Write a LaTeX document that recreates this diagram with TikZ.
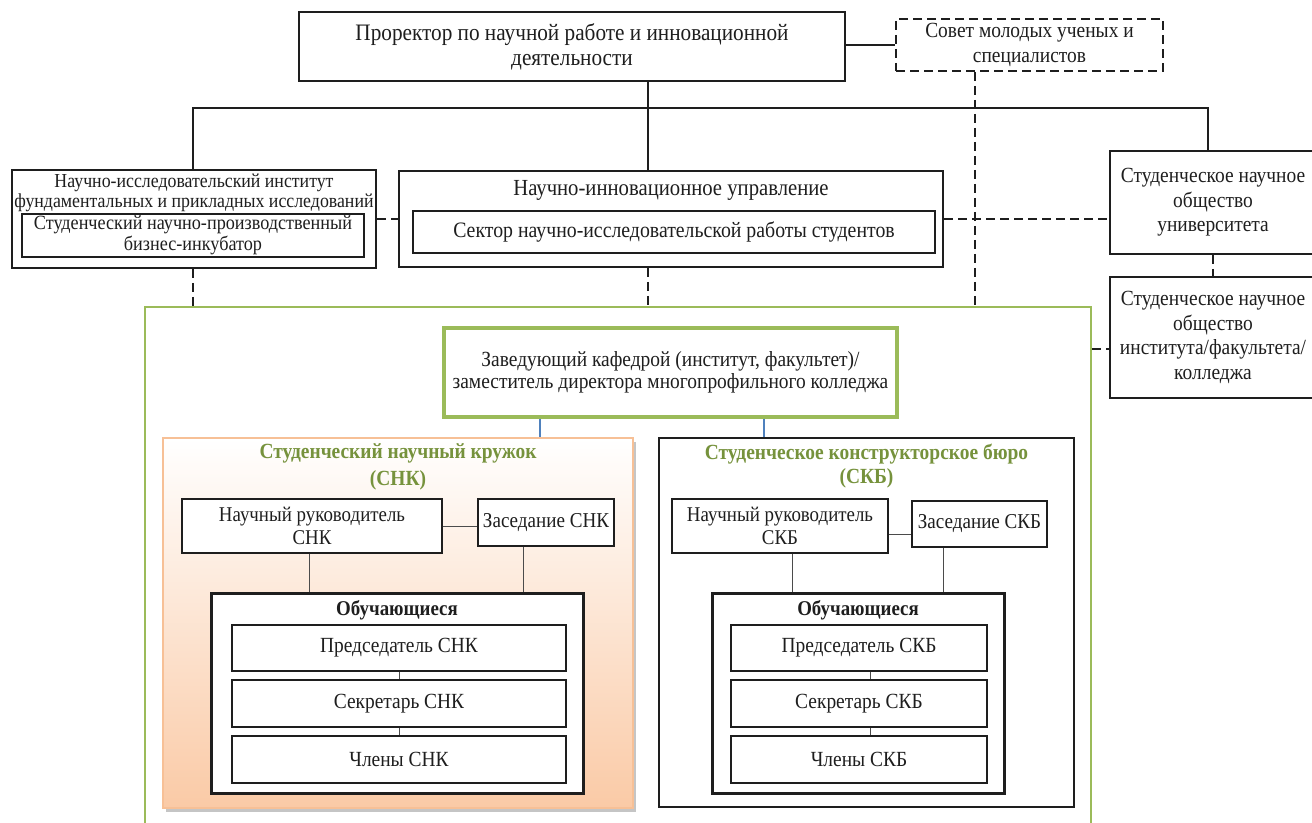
\documentclass[tikz,border=0pt]{standalone}
\usepackage{fontspec}
\setmainfont{Liberation Serif}[FakeStretch=0.9]
\usetikzlibrary{shadows}
\definecolor{ogreen}{RGB}{155,187,89}
\definecolor{tgreen}{RGB}{118,146,60}
\definecolor{cblue}{RGB}{79,129,189}
\definecolor{peach}{RGB}{250,202,166}
\definecolor{peachb}{RGB}{247,192,150}
\definecolor{ink}{RGB}{30,30,30}
\begin{document}
\begin{tikzpicture}[x=0.5pt,y=-0.5pt,
  sz/.style 2 args={minimum width=#1*0.5pt, minimum height=#2*0.5pt},
  fs/.style 2 args={font=\fontsize{#1}{#2}\selectfont},
  fsb/.style 2 args={font=\fontsize{#1}{#2}\selectfont\bfseries},
  box/.style={draw=ink, line width=1pt, inner sep=0pt, align=center, text=ink},
  sbox/.style={draw=ink, line width=0.55pt, inner sep=0pt, align=center, fill=white, text=ink},
  obox/.style={draw=ink, line width=1.5pt, inner sep=0pt, fill=white},
  lbl/.style={inner sep=0pt, align=center, text=ink},
  conn/.style={draw=ink, line width=0.8pt},
  tconn/.style={draw=ink!80, line width=0.5pt},
  bconn/.style={draw=cblue, line width=0.6pt},
  dconn/.style={draw=ink, line width=0.9pt, dash pattern=on 4.5pt off 2.5pt},
]
\useasboundingbox (0,0) rectangle (1312,823);
\fill[white] (0,0) rectangle (1312,823);

% helper coordinates for connector x/y positions
\coordinate (jl) at (193,108);
\coordinate (jm) at (648,108);
\coordinate (jr) at (1208,108);
\coordinate (sv) at (975,0);
\coordinate (b1) at (540,0);
\coordinate (b2) at (764,0);
\coordinate (g2) at (0,349);
\coordinate (x1) at (309,0);
\coordinate (x2) at (523,0);
\coordinate (x3) at (792,0);
\coordinate (x4) at (943,0);
\coordinate (x5) at (870,0);
\coordinate (y1) at (0,534);

% top level
\node[box, sz={546}{69}, fs={11.8}{12.5}] (prorektor) at (572,47)
  {Проректор по научной работе и инновационной\\деятельности};
\node[box, dash pattern=on 4.5pt off 2.5pt, sz={267}{52}, fs={10.8}{12.5}] (sovet) at (1029.5,45)
  {Совет молодых ученых и\\специалистов};

% research institute
\node[box, sz={364}{98}] (nii) at (194,219) {};
\node[lbl, fs={9.9}{10}] (niit) at (194,193)
  {Научно-исследовательский институт\\фундаментальных и прикладных исследований};
\node[box, sz={342}{43}, fs={10.1}{9}] (inkub) at (193,235.5)
  {Студенческий научно-производственный\\бизнес-инкубатор};

% innovation department
\node[box, sz={544}{96}] (niu) at (671,219) {};
\node[lbl, fs={11.5}{13}] (niut) at (671,190) {Научно-инновационное управление};
\node[box, sz={522}{42}, fs={11}{12}] (sektor) at (674,232)
  {Сектор научно-исследовательской работы студентов};

% student societies (right)
\node[box, sz={206}{103}, fs={10.8}{12.25}] (snou) at (1213,202.5)
  {Студенческое научное\\общество\\университета};
\node[box, sz={206}{121}, fs={10.8}{12.25}] (snoi) at (1213,337.5)
  {Студенческое научное\\общество\\института/факультета/\\колледжа};

% green group
\node[draw=ogreen, line width=1.3pt, sz={946}{523}] (grp) at (618,568.5) {};
\node[draw=ogreen, line width=1.7pt, inner sep=0pt, align=center, text=ink,
  sz={453}{89}, fs={10.8}{11}] (zav) at (670.5,372.5)
  {Заведующий кафедрой (институт, факультет)/\\заместитель директора многопрофильного колледжа};

% SNK
\node[draw=peachb, line width=0.8pt, top color=white, bottom color=peach,
  drop shadow={shadow xshift=1.5pt, shadow yshift=-2pt, fill=black!45, opacity=0.5},
  sz={470}{370}] (snk) at (398,623) {};
\node[lbl, text=tgreen, fsb={10.8}{13.3}] (snkt) at (398,467)
  {Студенческий научный кружок\\(СНК)};
\node[sbox, sz={260}{54}, fs={10.5}{11.5}] (snkruk) at (312,526) {Научный руководитель\\СНК};
\node[sbox, sz={136}{47}, fs={10.6}{12}] (snkzas) at (546,522.5) {Заседание СНК};
\node[obox, sz={372}{200}] (snkob) at (397,693) {};
\node[lbl, fsb={10.5}{13}] (snkobt) at (397,610) {Обучающиеся};
\node[sbox, sz={334}{46}, fs={10.8}{12}] (snkp) at (399,648) {Председатель СНК};
\node[sbox, sz={334}{47}, fs={10.8}{12}] (snks) at (399,703.5) {Секретарь СНК};
\node[sbox, sz={334}{47}, fs={10.8}{12}] (snkc) at (399,759.5) {Члены СНК};

% SKB
\node[draw=ink, line width=1.2pt, fill=white, sz={415}{369}] (skb) at (866.5,622.5) {};
\node[lbl, text=tgreen, fsb={10.8}{12}] (skbt) at (866.5,466)
  {Студенческое конструкторское бюро\\(СКБ)};
\node[sbox, sz={216}{54}, fs={10.5}{11.5}] (skbruk) at (780,526) {Научный руководитель\\СКБ};
\node[sbox, sz={135}{46}, fs={10.6}{12}] (skbzas) at (979.5,524) {Заседание СКБ};
\node[obox, sz={292}{200}] (skbob) at (858,693) {};
\node[lbl, fsb={10.5}{13}] (skbobt) at (858,610) {Обучающиеся};
\node[sbox, sz={256}{46}, fs={10.8}{12}] (skbp) at (859,648) {Председатель СКБ};
\node[sbox, sz={256}{47}, fs={10.8}{12}] (skbs) at (859,703.5) {Секретарь СКБ};
\node[sbox, sz={256}{47}, fs={10.8}{12}] (skbc) at (859,759.5) {Члены СКБ};

% solid hierarchy
\draw[conn] (prorektor.south -| jm) -- (niu.north -| jm);
\draw[conn] (nii.north -| jl) -- (jl) -- (jr) -- (snou.north -| jr);
\draw[conn] (sovet.west -| prorektor.east) -- (sovet.west);

% dashed links
\draw[dconn] (sovet.south -| sv) -- (grp.north -| sv);
\draw[dconn] (nii.east) -- (niu.west);
\draw[dconn] (niu.east) -- (snou.west |- niu.east);
\draw[dconn] (snou.south) -- (snoi.north);
\draw[dconn] (g2 -| grp.east) -- (g2 -| snoi.west);
\draw[dconn] (nii.south -| jl) -- (grp.north -| jl);
\draw[dconn] (niu.south -| jm) -- (grp.north -| jm);

% blue links
\draw[bconn] (zav.south -| b1) -- (snk.north -| b1);
\draw[bconn] (zav.south -| b2) -- (skb.north -| b2);

% SNK inner links
\draw[tconn] (snkruk.east) -- (snkruk.east -| snkzas.west);
\draw[tconn] (snkruk.south -| x1) -- (snkob.north -| x1);
\draw[tconn] (snkzas.south -| x2) -- (snkob.north -| x2);
\draw[tconn] (snkp.south) -- (snks.north);
\draw[tconn] (snks.south) -- (snkc.north);

% SKB inner links
\draw[tconn] (y1 -| skbruk.east) -- (y1 -| skbzas.west);
\draw[tconn] (skbruk.south -| x3) -- (skbob.north -| x3);
\draw[tconn] (skbzas.south -| x4) -- (skbob.north -| x4);
\draw[tconn] (skbp.south -| x5) -- (skbs.north -| x5);
\draw[tconn] (skbs.south -| x5) -- (skbc.north -| x5);
\end{tikzpicture}
\end{document}
